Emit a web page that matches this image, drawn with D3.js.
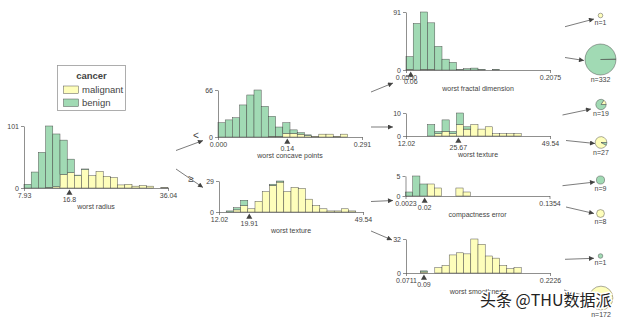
<!DOCTYPE html>
<html>
<head>
<meta charset="utf-8">
<script src="https://cdn.jsdelivr.net/npm/d3@7"></script>
<style>
  body { margin: 0; background: #fff; }
  text { font-family: "Liberation Sans", Arial, sans-serif; fill: #444443; }
</style>
</head>
<body>
<svg id="chart" width="624" height="322"></svg>
<script>
// ---- classes ----
const classNames = ["malignant", "benign"];
const classColors = ["#fefebb", "#a1dab4"];

// ---- root: worst radius ----
const radiusDomain = [7.93, 36.04];
const radiusTicks = ["7.93", "36.04"];
const radiusSplit = 16.8;
const radiusMalignant = [0, 0, 0, 1, 2, 22, 25, 20, 30, 20, 27, 19, 17, 5, 6, 3, 4, 3, 0, 1];
const radiusBenign    = [6, 26, 58, 100, 86, 56, 22, 1, 1, 0, 0, 0, 0, 0, 0, 0, 0, 0, 0, 0];

// ---- left: worst concave points ----
const concaveDomain = [0, 0.291];
const concaveTicks = ["0.000", "0.291"];
const concaveSplit = 0.14;
const concaveMalignant = [0, 0, 0, 0, 0, 0, 0, 1, 1, 5, 5, 4, 2, 1, 4, 4, 1, 4, 0, 0];
const concaveBenign    = [20, 24, 27, 45, 59, 66, 43, 28, 13, 15, 5, 2, 1, 0, 0, 0, 0, 0, 0, 0];

// ---- right: worst texture ----
const textureDomain = [12.02, 49.54];
const textureTicks = ["12.02", "49.54"];
const textureSplit = 19.91;
const textureMalignant = [0, 0, 2, 6, 3, 10, 19, 25, 28, 19, 23, 22, 12, 6, 3, 1, 1, 3, 1, 0];
const textureBenign    = [0, 1, 2, 5, 0, 0, 0, 1, 1, 0, 0, 0, 0, 0, 0, 0, 0, 0, 0, 0];

// ---- worst fractal dimension ----
const fractalDomain = [0.0550, 0.2075];
const fractalTicks = ["0.0550", "0.2075"];
const fractalSplit = 0.06;
const fractalMalignant = [1, 0, 1, 1, 0, 0, 0, 0, 0, 0, 0, 0, 0, 0, 0, 0, 0, 0, 0, 0];
const fractalBenign    = [20, 73, 90, 73, 37, 17, 12, 1, 2, 3, 1, 0, 1, 0, 0, 0, 0, 0, 0, 0];

// ---- worst texture (second level) ----
const texture2Split = 25.67;
const texture2Malignant = [0, 0, 0, 0, 1, 2, 1, 5, 3, 5, 3, 4, 1, 1, 1, 1, 0, 0, 0, 0];
const texture2Benign    = [0, 0, 0, 5, 1, 5, 1, 5, 1, 0, 0, 0, 0, 0, 0, 0, 0, 0, 0, 0];

// ---- compactness error ----
const compactDomain = [0.0023, 0.1354];
const compactTicks = ["0.0023", "0.1354"];
const compactSplit = 0.02;
const compactMalignant = [0, 0, 0, 3, 2, 0, 0, 2, 1, 0, 0, 0, 0, 0, 0, 0, 0, 0, 0, 0];
const compactBenign    = [1, 5, 3, 0, 0, 0, 0, 0, 0, 0, 0, 0, 0, 0, 0, 0, 0, 0, 0, 0];

// ---- worst smoothness ----
const smoothDomain = [0.0711, 0.2226];
const smoothTicks = ["0.0711", "0.2226"];
const smoothSplit = 0.09;
const smoothMalignant = [0, 0, 1, 0, 5, 7, 17, 19, 18, 32, 27, 16, 14, 7, 4, 5, 0, 0, 0, 0];
const smoothBenign    = [0, 0, 1, 0, 0, 0, 0, 0, 0, 0, 0, 0, 0, 0, 0, 0, 0, 0, 0, 0];

// ---- leaves (top to bottom) ----
const leafMalignant = [1, 2, 3, 25, 0, 8, 0, 172];
const leafBenign    = [0, 330, 16, 2, 9, 0, 1, 0];

// ---- node table with placement ----
const HIST_W = 144;
const splitNodes = [
  { feature: "worst radius", domain: radiusDomain, ticks: radiusTicks, split: radiusSplit,
    malignant: radiusMalignant, benign: radiusBenign, x: 24, base: 188, h: 62 },
  { feature: "worst concave points", domain: concaveDomain, ticks: concaveTicks, split: concaveSplit,
    malignant: concaveMalignant, benign: concaveBenign, x: 218, base: 137, h: 47 },
  { feature: "worst texture", domain: textureDomain, ticks: textureTicks, split: textureSplit,
    malignant: textureMalignant, benign: textureBenign, x: 219, base: 212, h: 31 },
  { feature: "worst fractal dimension", domain: fractalDomain, ticks: fractalTicks, split: fractalSplit,
    malignant: fractalMalignant, benign: fractalBenign, x: 406, base: 70, h: 58 },
  { feature: "worst texture", domain: textureDomain, ticks: textureTicks, split: texture2Split,
    malignant: texture2Malignant, benign: texture2Benign, x: 406, base: 136, h: 23 },
  { feature: "compactness error", domain: compactDomain, ticks: compactTicks, split: compactSplit,
    malignant: compactMalignant, benign: compactBenign, x: 405.5, base: 196, h: 20 },
  { feature: "worst smoothness", domain: smoothDomain, ticks: smoothTicks, split: smoothSplit,
    malignant: smoothMalignant, benign: smoothBenign, x: 406, base: 273, h: 34 }
];

const leafCenters = [
  [600.5, 15.5], [600.5, 59.5], [601, 104.5], [601, 142.5],
  [600.5, 180], [600.5, 213.5], [600.5, 256], [601, 298]
];

// tree edges: [x1, y1, x2, y2]
const treeEdges = [
  [176, 150.5, 203, 140.5],
  [176, 169, 203, 187.5],
  [371, 92, 393, 83],
  [371, 127, 393, 127],
  [371, 201.5, 393, 200.5],
  [371, 231, 392, 240],
  [565, 26.7, 594, 19],
  [565, 57.5, 584, 60.5],
  [562.5, 115, 591, 109],
  [566, 140.5, 595, 143.5],
  [562.5, 185.7, 595, 182],
  [566, 207, 594, 213.5],
  [565, 259.3, 594, 258.3],
  [564, 290, 586, 296]
];

const INK = "#444443";
const svg = d3.select("#chart");

// arrowhead
svg.append("defs").append("marker")
  .attr("id", "arrow")
  .attr("markerUnits", "userSpaceOnUse")
  .attr("viewBox", "0 0 10 10")
  .attr("refX", 10).attr("refY", 5)
  .attr("markerWidth", 6).attr("markerHeight", 5)
  .attr("orient", "auto")
  .append("path")
  .attr("d", "M0,0 L10,5 L0,10 Z")
  .attr("fill", INK);

svg.append("g").selectAll("line")
  .data(treeEdges)
  .join("line")
  .attr("x1", d => d[0]).attr("y1", d => d[1])
  .attr("x2", d => d[2]).attr("y2", d => d[3])
  .attr("stroke", INK).attr("stroke-width", 0.7)
  .attr("marker-end", "url(#arrow)");

// edge labels
svg.append("text").attr("x", 196).attr("y", 138.5).attr("text-anchor", "middle")
  .attr("font-size", 10).text("<");
svg.append("text").attr("x", 191).attr("y", 181.5).attr("text-anchor", "middle")
  .attr("font-size", 10).text("≥");

// split node histograms
splitNodes.forEach(n => {
  const g = svg.append("g");
  const x = d3.scaleLinear().domain(n.domain).range([n.x, n.x + HIST_W]);
  const rows = n.malignant.map((m, i) => ({ malignant: m, benign: n.benign[i], i }));
  const yMax = d3.max(rows, r => r.malignant + r.benign);
  const y = d3.scaleLinear().domain([0, yMax]).range([n.base, n.base - n.h]);
  const binW = (n.domain[1] - n.domain[0]) / rows.length;
  const series = d3.stack().keys(classNames)(rows);

  series.forEach((s, k) => {
    g.append("g").selectAll("rect")
      .data(s.filter(d => d[1] > d[0]))
      .join("rect")
      .attr("x", d => x(n.domain[0] + d.data.i * binW))
      .attr("width", d => x(n.domain[0] + (d.data.i + 1) * binW) - x(n.domain[0] + d.data.i * binW))
      .attr("y", d => y(d[1]))
      .attr("height", d => y(d[0]) - y(d[1]))
      .attr("fill", classColors[k])
      .attr("stroke", INK)
      .attr("stroke-width", 0.45);
  });

  const xAxis = d3.axisBottom(x)
    .tickValues(n.domain)
    .tickFormat((d, i) => n.ticks[i])
    .tickSize(3).tickSizeOuter(0).tickPadding(2);
  const yAxis = d3.axisLeft(y)
    .tickValues([0, yMax])
    .tickFormat(d3.format("d"))
    .tickSize(3).tickSizeOuter(0).tickPadding(2);

  [g.append("g").attr("transform", `translate(0,${n.base})`).call(xAxis),
   g.append("g").attr("transform", `translate(${n.x},0)`).call(yAxis)]
    .forEach(a => {
      a.attr("font-family", null).attr("font-size", 7);
      a.selectAll("path, line").attr("stroke", INK).attr("stroke-width", 0.6);
      a.selectAll("text").attr("fill", INK);
    });

  // split marker
  g.append("path")
    .attr("d", d3.symbol(d3.symbolTriangle, 16)())
    .attr("transform", `translate(${x(n.split)},${n.base + 5})`)
    .attr("fill", INK);
  g.append("text")
    .attr("x", x(n.split)).attr("y", n.base + 13.5)
    .attr("text-anchor", "middle").attr("font-size", 7)
    .text(String(n.split));

  g.append("text")
    .attr("x", n.x + HIST_W / 2).attr("y", n.base + 20.5)
    .attr("text-anchor", "middle").attr("font-size", 7)
    .text(n.feature);
});

// leaves as pies
const leafN = leafMalignant.map((m, i) => m + leafBenign[i]);
const rScale = d3.scalePow().exponent(0.45).domain([1, d3.max(leafN)]).range([2.3, 15.5]);
const pie = d3.pie().sort(null).startAngle(Math.PI / 2).endAngle(Math.PI / 2 - 2 * Math.PI);

leafN.forEach((n, i) => {
  const [cx, cy] = leafCenters[i];
  const r = rScale(n);
  const g = svg.append("g").attr("transform", `translate(${cx},${cy})`);
  const arc = d3.arc().innerRadius(0).outerRadius(r);
  g.selectAll("path")
    .data(pie([leafMalignant[i], leafBenign[i]]).map((d, k) => ({ ...d, k })).filter(d => d.value > 0))
    .join("path")
    .attr("d", arc)
    .attr("fill", d => classColors[d.k])
    .attr("stroke", INK)
    .attr("stroke-width", 0.45);
  g.append("text")
    .attr("y", r + 6.8)
    .attr("text-anchor", "middle").attr("font-size", 7)
    .text("n=" + n);
});

// legend
const legend = svg.append("g").attr("transform", "translate(57.5,65.5)");
legend.append("rect").attr("width", 68).attr("height", 45)
  .attr("fill", "#fff").attr("stroke", "#9a9a9a").attr("stroke-width", 0.8);
legend.append("text").attr("x", 34).attr("y", 13)
  .attr("text-anchor", "middle").attr("font-size", 9.5).attr("font-weight", "bold")
  .text("cancer");
classNames.forEach((c, i) => {
  legend.append("rect").attr("x", 6).attr("y", 20.5 + i * 13)
    .attr("width", 15).attr("height", 7.5)
    .attr("fill", classColors[i]).attr("stroke", INK).attr("stroke-width", 0.45);
  legend.append("text").attr("x", 24.5).attr("y", 27.5 + i * 13)
    .attr("font-size", 9.5).text(c);
});

// source tag
svg.append("text")
  .attr("x", 480).attr("y", 306)
  .attr("font-size", 16)
  .style("font-family", "'Noto Sans CJK SC', sans-serif")
  .style("fill", "#222")
  .attr("stroke", "#fff").attr("stroke-width", 3).attr("paint-order", "stroke")
  .text("头条 @THU数据派");
</script>
</body>
</html>
